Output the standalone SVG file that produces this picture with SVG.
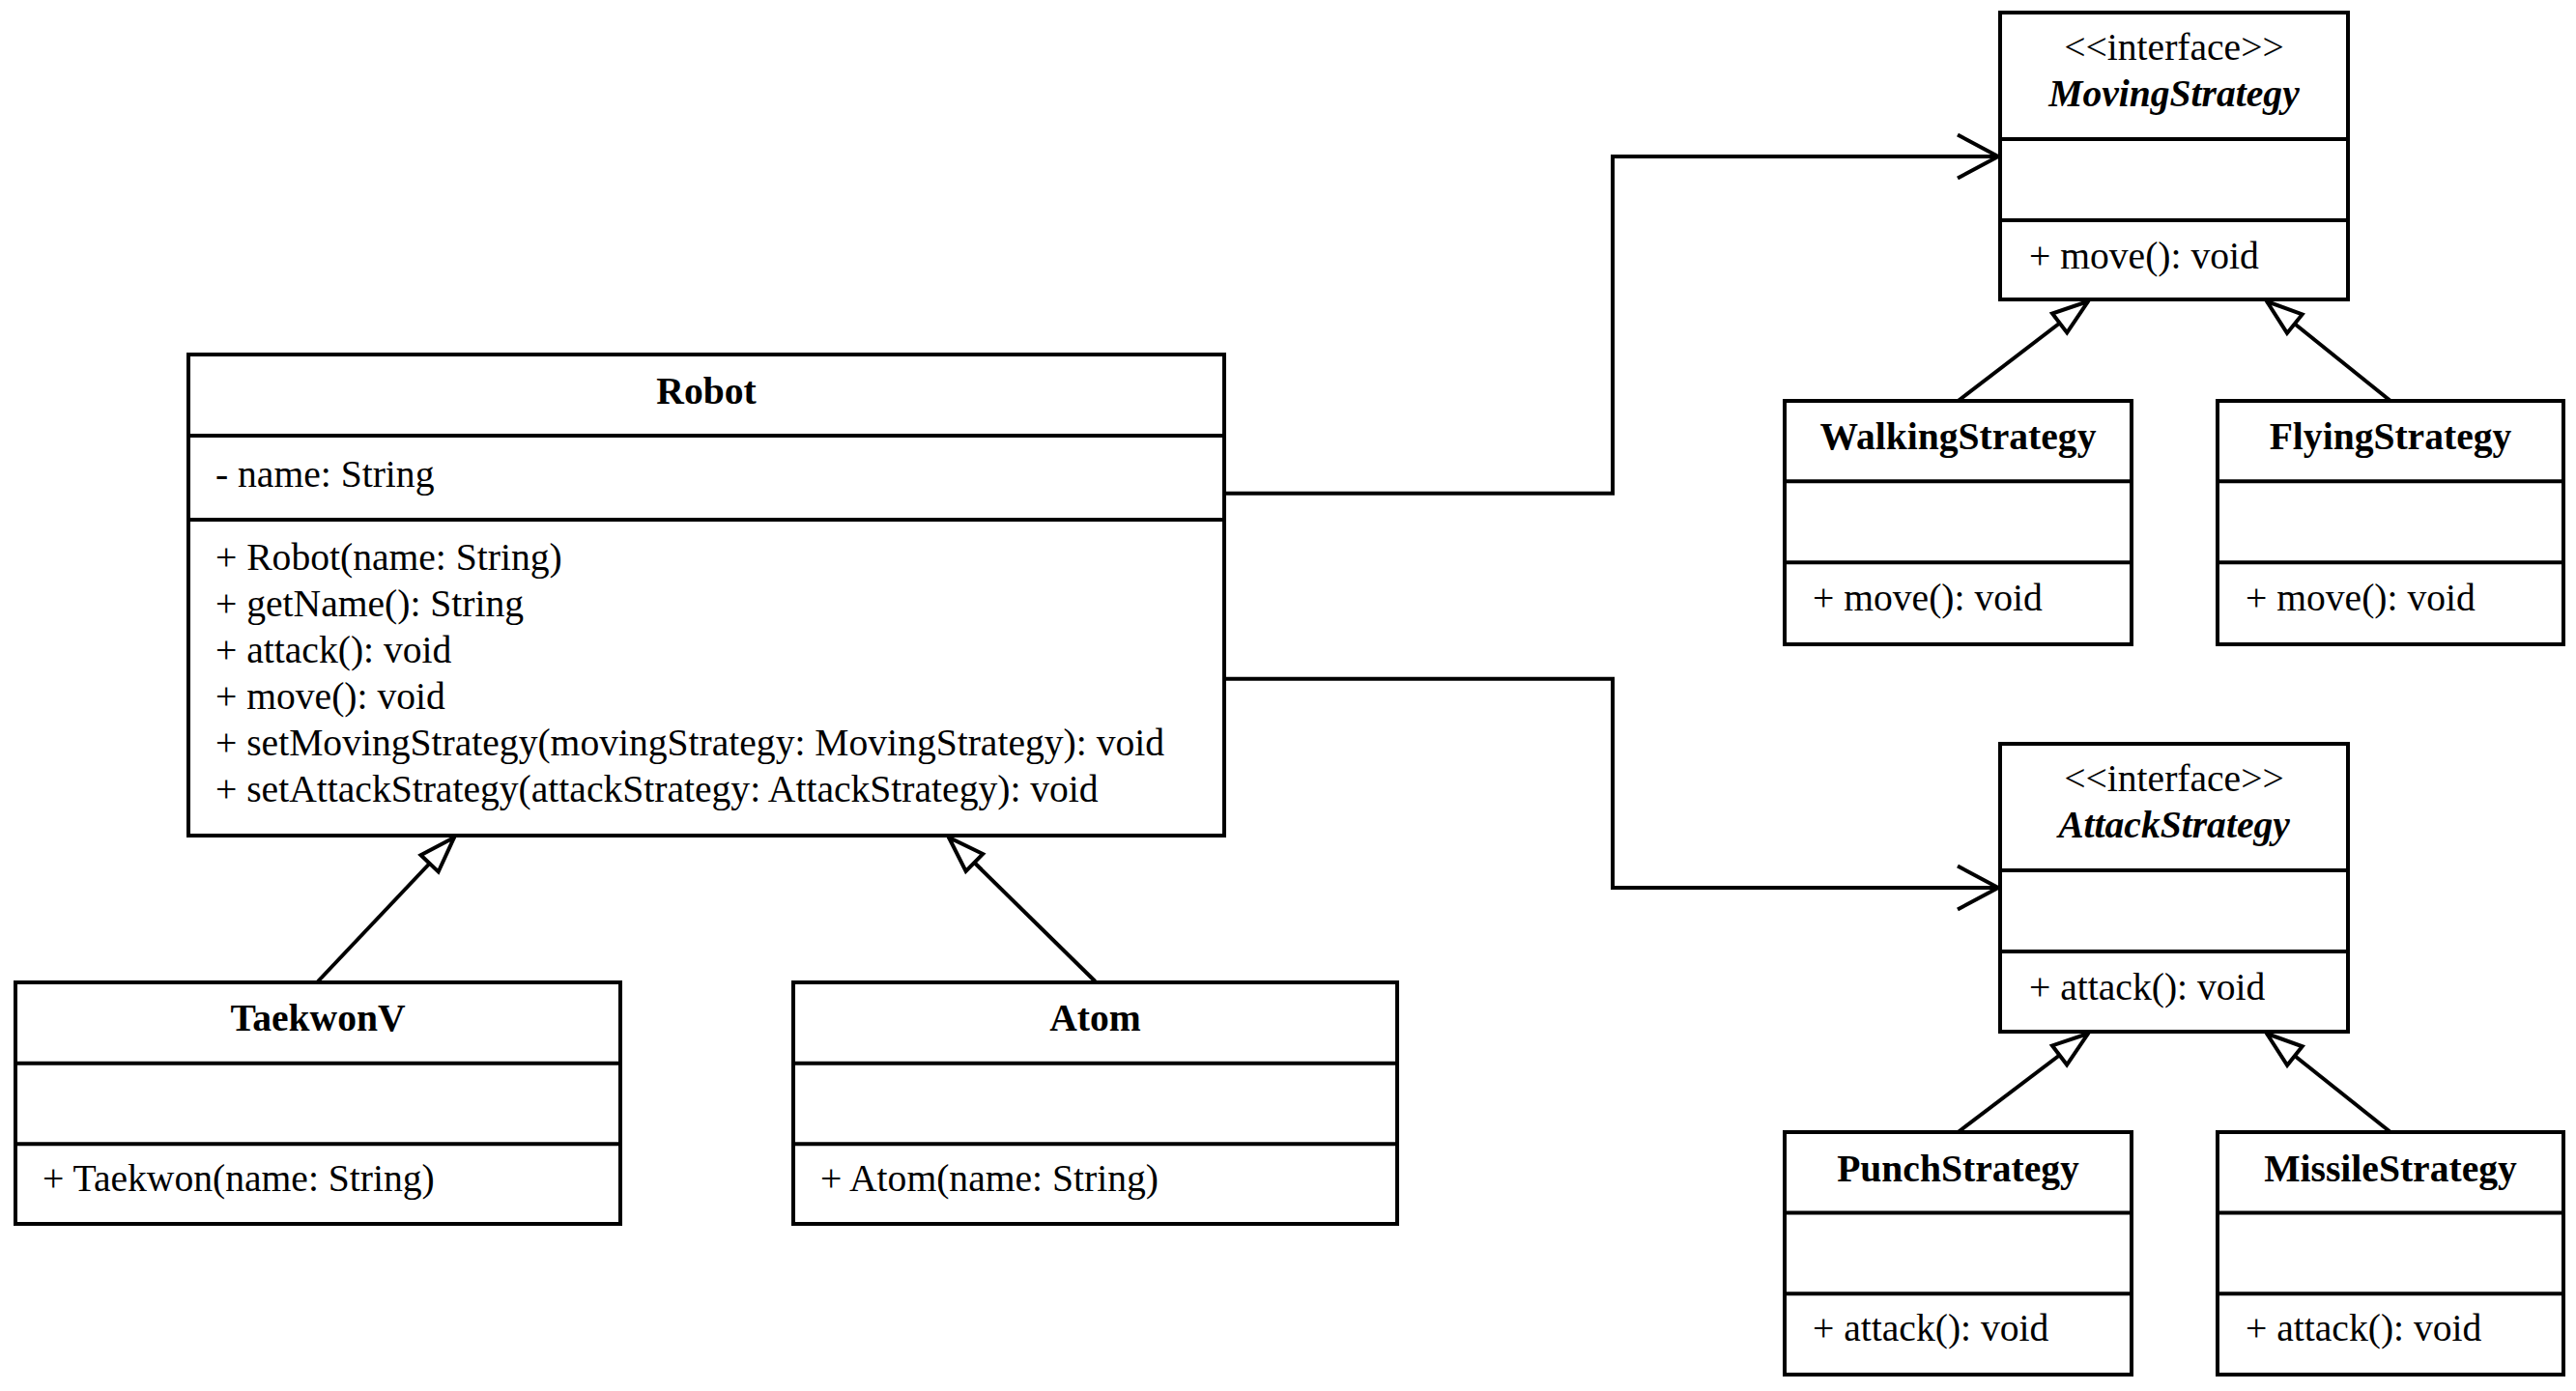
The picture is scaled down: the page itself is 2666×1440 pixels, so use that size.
<svg xmlns="http://www.w3.org/2000/svg" width="2666" height="1440" viewBox="0 0 2666 1440">
  <style>
    .box { fill: #ffffff; stroke: #000000; stroke-width: 4; }
    .div { stroke: #000000; stroke-width: 4; fill: none; }
    .edge { stroke: #000000; stroke-width: 4; fill: none; }
    text { font-family: "Liberation Serif", "Times New Roman", serif; font-size: 39.6px; fill: #000000; }
    .title { font-weight: bold; text-anchor: middle; }
    .ititle { font-weight: bold; font-style: italic; text-anchor: middle; }
    .stereo { text-anchor: middle; }
  </style>
  <defs>
    <!-- hollow triangle for realization / generalization -->
    <marker id="tri" markerUnits="userSpaceOnUse" orient="auto" refX="0" refY="0" markerWidth="60" markerHeight="40" viewBox="-40 -20 60 40" overflow="visible">
      <path d="M0,0 L-37,-12.5 L-37,12.5 Z" fill="#ffffff" stroke="#000000" stroke-width="4" stroke-linejoin="miter"/>
    </marker>
    <!-- open arrow for association -->
    <marker id="open" markerUnits="userSpaceOnUse" orient="auto" refX="0" refY="0" markerWidth="60" markerHeight="60" viewBox="-50 -30 60 60" overflow="visible">
      <path d="M-42,-22.5 L0,0 L-42,22.5" fill="none" stroke="#000000" stroke-width="4"/>
    </marker>
  </defs>

  <g id="connectors">
    <path class="edge" d="M1267,510.7 H1669 V162 H2068" marker-end="url(#open)"/>
    <path class="edge" d="M1267,702.7 H1669 V919 H2068" marker-end="url(#open)"/>
    <path class="edge" d="M329,1016 L470,867" marker-end="url(#tri)"/>
    <path class="edge" d="M1133.5,1016 L982,867" marker-end="url(#tri)"/>
    <path class="edge" d="M2026.5,415 L2161,312" marker-end="url(#tri)"/>
    <path class="edge" d="M2474,415 L2346,312" marker-end="url(#tri)"/>
    <path class="edge" d="M2026.5,1172 L2161,1070" marker-end="url(#tri)"/>
    <path class="edge" d="M2474,1172 L2346,1070" marker-end="url(#tri)"/>
  </g>

  <g id="Robot">
    <rect class="box" x="195" y="367" width="1072" height="498"/>
    <line class="div" x1="195" y1="451" x2="1267" y2="451"/>
    <line class="div" x1="195" y1="538" x2="1267" y2="538"/>
    <text class="title" x="731" y="418">Robot</text>
    <text x="223" y="504">- name: String</text>
    <text x="223" y="590">+ Robot(name: String)</text>
    <text x="223" y="637.9">+ getName(): String</text>
    <text x="223" y="685.8">+ attack(): void</text>
    <text x="223" y="733.7">+ move(): void</text>
    <text x="223" y="781.6">+ setMovingStrategy(movingStrategy: MovingStrategy): void</text>
    <text x="223" y="829.5">+ setAttackStrategy(attackStrategy: AttackStrategy): void</text>
  </g>

  <g id="TaekwonV">
    <rect class="box" x="16" y="1017" width="626" height="250"/>
    <line class="div" x1="16" y1="1100.7" x2="642" y2="1100.7"/>
    <line class="div" x1="16" y1="1184.3" x2="642" y2="1184.3"/>
    <text class="title" x="329" y="1067">TaekwonV</text>
    <text x="44" y="1233.3">+ Taekwon(name: String)</text>
  </g>

  <g id="Atom">
    <rect class="box" x="821" y="1017" width="625" height="250"/>
    <line class="div" x1="821" y1="1100.7" x2="1446" y2="1100.7"/>
    <line class="div" x1="821" y1="1184.3" x2="1446" y2="1184.3"/>
    <text class="title" x="1133.5" y="1067">Atom</text>
    <text x="849" y="1233.3">+ Atom(name: String)</text>
  </g>

  <g id="MovingStrategy">
    <rect class="box" x="2070" y="13" width="360" height="297"/>
    <line class="div" x1="2070" y1="144" x2="2430" y2="144"/>
    <line class="div" x1="2070" y1="228" x2="2430" y2="228"/>
    <text class="stereo" x="2250" y="61.7">&lt;&lt;interface&gt;&gt;</text>
    <text class="ititle" x="2250" y="110">MovingStrategy</text>
    <text x="2100" y="278">+ move(): void</text>
  </g>

  <g id="WalkingStrategy">
    <rect class="box" x="1847" y="415" width="359" height="252"/>
    <line class="div" x1="1847" y1="498.3" x2="2206" y2="498.3"/>
    <line class="div" x1="1847" y1="582.3" x2="2206" y2="582.3"/>
    <text class="title" x="2026.5" y="465">WalkingStrategy</text>
    <text x="1876" y="631.7">+ move(): void</text>
  </g>

  <g id="FlyingStrategy">
    <rect class="box" x="2295" y="415" width="358" height="252"/>
    <line class="div" x1="2295" y1="498.3" x2="2653" y2="498.3"/>
    <line class="div" x1="2295" y1="582.3" x2="2653" y2="582.3"/>
    <text class="title" x="2474" y="465">FlyingStrategy</text>
    <text x="2324" y="631.7">+ move(): void</text>
  </g>

  <g id="AttackStrategy">
    <rect class="box" x="2070" y="770" width="360" height="298"/>
    <line class="div" x1="2070" y1="901" x2="2430" y2="901"/>
    <line class="div" x1="2070" y1="985" x2="2430" y2="985"/>
    <text class="stereo" x="2250" y="818.7">&lt;&lt;interface&gt;&gt;</text>
    <text class="ititle" x="2250" y="867">AttackStrategy</text>
    <text x="2100" y="1035">+ attack(): void</text>
  </g>

  <g id="PunchStrategy">
    <rect class="box" x="1847" y="1172" width="359" height="251"/>
    <line class="div" x1="1847" y1="1255.5" x2="2206" y2="1255.5"/>
    <line class="div" x1="1847" y1="1339.3" x2="2206" y2="1339.3"/>
    <text class="title" x="2026.5" y="1223">PunchStrategy</text>
    <text x="1876" y="1388">+ attack(): void</text>
  </g>

  <g id="MissileStrategy">
    <rect class="box" x="2295" y="1172" width="358" height="251"/>
    <line class="div" x1="2295" y1="1255.5" x2="2653" y2="1255.5"/>
    <line class="div" x1="2295" y1="1339.3" x2="2653" y2="1339.3"/>
    <text class="title" x="2474" y="1223">MissileStrategy</text>
    <text x="2324" y="1388">+ attack(): void</text>
  </g>
</svg>
